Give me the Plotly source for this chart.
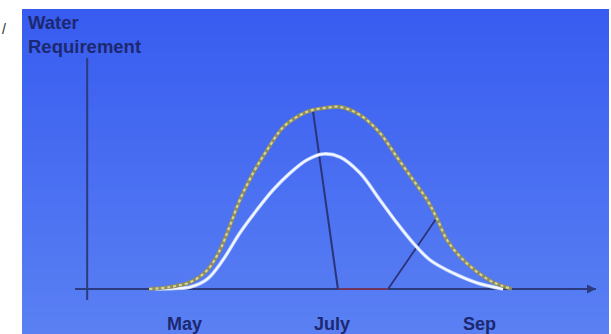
import plotly.graph_objects as go

# Month axis (5 = May, 7 = July, 9 = Sep) and relative water requirement
month_ticks = [5, 7, 9]
month_labels = ["May", "July", "Sep"]

# Outer curve: total crop water requirement
outer_month = [4.52, 4.80, 5.08, 5.31, 5.48, 5.62, 5.75, 5.93, 6.12, 6.34, 6.57, 6.74, 6.91,
               7.11, 7.38, 7.65, 7.88, 8.10, 8.29, 8.42, 8.56, 8.74, 8.97, 9.18, 9.44]
outer_need = [0, 1.1, 3.8, 10.4, 21.4, 35.2, 48.9, 63.7, 76.4, 89.0, 95.6, 98.4, 99.5,
              100, 95.6, 85.7, 72.5, 59.9, 48.9, 39.0, 26.9, 17.6, 9.3, 3.8, 0]

# Inner curve: reduced requirement
inner_month = [4.60, 4.87, 5.08, 5.31, 5.52, 5.75, 5.98, 6.20, 6.43, 6.66, 6.88,
               7.11, 7.38, 7.65, 7.88, 8.10, 8.33, 8.64, 8.97, 9.32]
inner_need = [0, 0.3, 1.1, 5.5, 15.9, 30.8, 43.4, 54.4, 63.7, 70.9, 74.2,
              72.5, 63.7, 48.9, 36.3, 25.3, 15.9, 8.8, 3.3, 0]

# Guide lines dropped from the outer curve to the time axis
peak_drop_month = [6.74, 7.08]
peak_drop_need = [98.4, 0]
late_drop_month = [7.76, 8.42]
late_drop_need = [0, 39.0]
shift_month = [7.08, 7.76]
shift_need = [0, 0]

# Axis extents
y_axis_month = 3.68
y_axis_span = [-6.0, 126.9]
x_axis_span = [3.515, 10.58]

X_RANGE = [2.498, 10.783]
Y_RANGE = [-24.725, 158.79]

AXIS_COLOR = "#2c3a7e"
TEXT_COLOR = "#1c2870"
FONT = "Liberation Sans, Arial, sans-serif"

fig = go.Figure()

# Blue panel background with a soft vertical gradient: each band runs from the
# bottom of the panel up to its own top edge, drawn top-first, so no seams show.
n_bands = 60
top_rgb = (56, 92, 240)
bot_rgb = (90, 128, 243)
panel_x0, panel_x1 = 22 / 611, 609 / 611
panel_top = 1 - 9 / 334
shapes = []
for i in range(n_bands):
    t = i / (n_bands - 1)
    r = round(top_rgb[0] + (bot_rgb[0] - top_rgb[0]) * t)
    g = round(top_rgb[1] + (bot_rgb[1] - top_rgb[1]) * t)
    b = round(top_rgb[2] + (bot_rgb[2] - top_rgb[2]) * t)
    y1 = panel_top - panel_top * i / n_bands
    shapes.append(dict(type="rect", xref="paper", yref="paper",
                       x0=panel_x0, x1=panel_x1, y0=-0.01, y1=y1,
                       fillcolor=f"rgb({r},{g},{b})", line=dict(width=0), layer="below"))

# Axis lines
shapes.append(dict(type="line", xref="x", yref="y",
                   x0=y_axis_month, x1=y_axis_month, y0=y_axis_span[0], y1=y_axis_span[1],
                   line=dict(color=AXIS_COLOR, width=2), layer="below"))
shapes.append(dict(type="line", xref="x", yref="y",
                   x0=x_axis_span[0], x1=x_axis_span[1], y0=0, y1=0,
                   line=dict(color=AXIS_COLOR, width=2), layer="below"))

# Guide lines
fig.add_trace(go.Scatter(x=peak_drop_month, y=peak_drop_need, mode="lines",
                         line=dict(color="#2a3478", width=2), hoverinfo="skip"))
fig.add_trace(go.Scatter(x=late_drop_month, y=late_drop_need, mode="lines",
                         line=dict(color="#2a3478", width=1.8), hoverinfo="skip"))
fig.add_trace(go.Scatter(x=shift_month, y=shift_need, mode="lines",
                         line=dict(color="#70355a", width=2), hoverinfo="skip"))

# Inner (white) curve
fig.add_trace(go.Scatter(x=inner_month, y=inner_need, mode="lines",
                         line=dict(color="#b8ccff", width=3.6, shape="spline", smoothing=1.0),
                         hoverinfo="skip"))
fig.add_trace(go.Scatter(x=inner_month, y=inner_need, mode="lines",
                         line=dict(color="#f4f8ff", width=2.0, shape="spline", smoothing=1.0),
                         hoverinfo="skip"))

# Outer curve: muted olive base with a dotted pale-yellow overlay
fig.add_trace(go.Scatter(x=outer_month, y=outer_need, mode="lines",
                         line=dict(color="#8e8c66", width=3.8, shape="spline", smoothing=1.0),
                         hoverinfo="skip"))
fig.add_trace(go.Scatter(x=outer_month, y=outer_need, mode="lines",
                         line=dict(color="#d6d68a", width=2.2, shape="spline", smoothing=1.0,
                                   dash="dot"),
                         hoverinfo="skip"))

annotations = [
    # Arrowhead at the end of the time axis
    dict(x=x_axis_span[1], y=0, ax=x_axis_span[1] - 0.3, ay=0, xref="x", yref="y",
         axref="x", ayref="y", showarrow=True, arrowhead=2, arrowsize=0.9,
         arrowwidth=2, arrowcolor=AXIS_COLOR, text=""),
    # Axis title
    dict(x=26 / 611, y=1 - 10 / 334, xref="paper", yref="paper", xanchor="left", yanchor="top",
         align="left", showarrow=False, text="Water<br>Requirement",
         font=dict(family=FONT, size=18.5, color=TEXT_COLOR, weight="bold")),
    dict(x=0.0, y=1 - 29 / 334, xref="paper", yref="paper", xanchor="left", yanchor="middle",
         showarrow=False, text="/",
         font=dict(family=FONT, size=14, color="#2a2a2a")),
]

fig.update_layout(
    width=611, height=334,
    margin=dict(l=0, r=0, t=0, b=0),
    paper_bgcolor="white", plot_bgcolor="rgba(0,0,0,0)",
    showlegend=False,
    shapes=shapes,
    annotations=annotations,
    xaxis=dict(range=X_RANGE, showgrid=False, zeroline=False, showline=False,
               tickvals=month_ticks, ticktext=month_labels, ticks="",
               anchor="free", position=(334 - 311) / 334,
               tickfont=dict(family=FONT, size=18, color=TEXT_COLOR, weight="bold"),
               fixedrange=True),
    yaxis=dict(range=Y_RANGE, showgrid=False, zeroline=False, showline=False,
               showticklabels=False, fixedrange=True),
)

fig.write_html("out.html")
